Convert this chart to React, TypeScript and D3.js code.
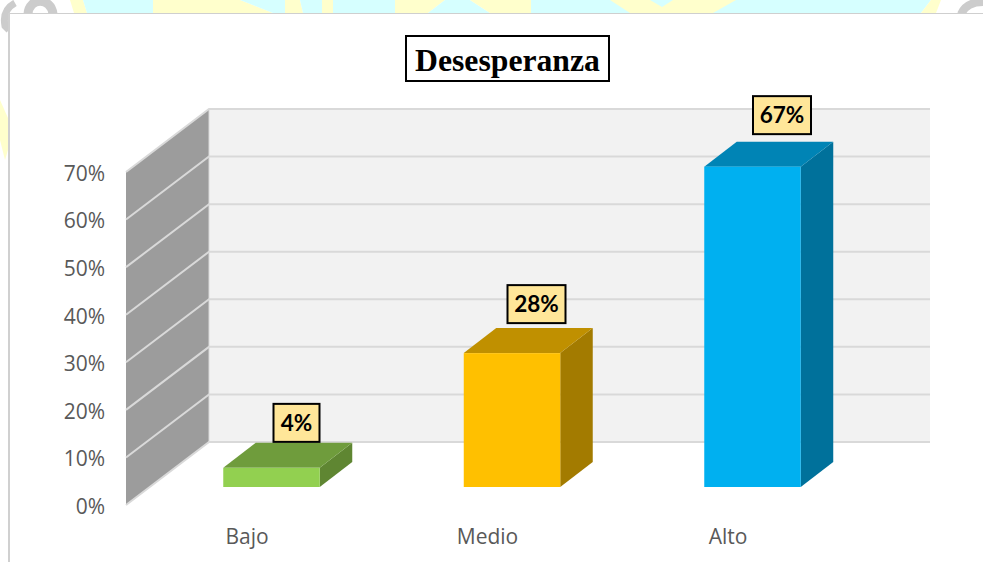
import React from "react";
import * as d3 from "d3";

const categories = ["Bajo", "Medio", "Alto"];
const values = [0.04, 0.28, 0.67];
const ticks = [0, 0.1, 0.2, 0.3, 0.4, 0.5, 0.6, 0.7];
const frontColors = ["#92d050", "#ffc000", "#00b0f0"];
const topColors = ["#6f9c3c", "#c09000", "#0084b5"];
const sideColors = ["#5f8632", "#a37b00", "#00719b"];
const labelDx = [25, 24.5, 29.5];
const labelGap = [1, 5, 7.5];

const W = 983;
const H = 562;
const wallX0 = 126;
const wallDX = 83;
const wallDY = 63;
const backRight = 930;
const barDX = 32.5;
const barDY = 25;

const yWall = d3.scaleLinear().domain([0, 0.7]).range([505, 172]);
const yBar = d3.scaleLinear().domain([0, 0.7]).range([487, 152.3]);
const x = d3.scaleBand<string>().domain(categories).range([151.25, 872.75]).paddingInner(0.5988).paddingOuter(0.2994);

const pts = (p: [number, number][]) => p.map((q) => q.join(",")).join(" ");

const CY = "#d6ffff";
const YL = "#ffffcc";
const topBg: [string, number, number, number, number][] = [
  [YL, 70, 83, 74, 87],
  [CY, 83, 153, 87, 153],
  [YL, 153, 240, 153, 273],
  [CY, 240, 285, 273, 285],
  [YL, 285, 300, 285, 303],
  [CY, 300, 322, 303, 322],
  [YL, 322, 333, 322, 333],
  [CY, 333, 395, 333, 395],
  [YL, 395, 445, 395, 428],
  [CY, 445, 470, 428, 490],
  [YL, 470, 531, 490, 531],
  [CY, 531, 931, 531, 921],
  [YL, 610, 736, 630, 713],
  [YL, 931, 941, 921, 936],
];

export default function App() {
  return (
    <svg width={W} height={H} viewBox={`0 0 ${W} ${H}`} style={{ position: "fixed", left: 0, top: 0, display: "block" }}>
      <rect width={W} height={H} fill="#ffffff" />
      {/* page background strip */}
      {topBg.map(([c, a, b, e, f], i) => (
        <polygon key={i} fill={c} points={pts([[a, 0], [b, 0], [f, 13], [e, 13]])} />
      ))}
      <polygon fill={CY} points={pts([[650, 0], [673, 0], [662, 7]])} />
      <polygon fill={YL} points={pts([[0, 100], [8, 118], [8, 150], [5, 160], [0, 140]])} />
      <path d="M15,3 C6,8 3,16 5,26 L9,30" fill="none" stroke="#cccccc" strokeWidth={7} />
      <path d="M28,14 C29,-3 51,-3 53,14" fill="none" stroke="#cccccc" strokeWidth={9} />
      <path d="M961,14 C965,5 973,2 983,2" fill="none" stroke="#cccccc" strokeWidth={8} />
      {/* card */}
      <rect x={9.5} y={13.5} width={W} height={H} fill="#ffffff" stroke="#cfcfcf" strokeWidth={1} />
      <line x1={9} x2={9} y1={13} y2={H} stroke="#d0d0d0" strokeWidth={2} />

      {/* back wall and side wall */}
      <rect x={wallX0 + wallDX} y={yWall(0.7) - wallDY} width={backRight - wallX0 - wallDX} height={yWall(0) - yWall(0.7)} fill="#f2f2f2" />
      <polygon
        fill="#9c9c9c"
        points={pts([
          [wallX0, yWall(0)],
          [wallX0 + wallDX, yWall(0) - wallDY],
          [wallX0 + wallDX, yWall(0.7) - wallDY],
          [wallX0, yWall(0.7)],
        ])}
      />
      {ticks.map((t) => (
        <polyline
          key={t}
          stroke="#d9d9d9"
          strokeWidth={2}
          fill="none"
          points={pts([
            [wallX0, yWall(t)],
            [wallX0 + wallDX, yWall(t) - wallDY],
            [backRight, yWall(t) - wallDY],
          ])}
        />
      ))}
      <line x1={wallX0 + wallDX} x2={wallX0 + wallDX} y1={yWall(0) - wallDY} y2={yWall(0.7) - wallDY} stroke="#d9d9d9" strokeWidth={1} />

      {/* tick labels */}
      {ticks.map((t) => (
        <text key={t} x={105} y={yWall(t) + 1.5} dy="0.35em" textAnchor="end" fontFamily="'Open Sans'" fontSize={21} fill="#595959">
          {d3.format(".0%")(t)}
        </text>
      ))}

      {/* bars */}
      {categories.map((c, i) => {
        const x0 = x(c)!;
        const bw = x.bandwidth();
        const top = yBar(values[i]);
        const bot = yBar(0);
        return (
          <g key={c}>
            <polygon fill={sideColors[i]} points={pts([[x0 + bw, top], [x0 + bw + barDX, top - barDY], [x0 + bw + barDX, bot - barDY], [x0 + bw, bot]])} />
            <polygon fill={topColors[i]} points={pts([[x0, top], [x0 + barDX, top - barDY], [x0 + bw + barDX, top - barDY], [x0 + bw, top]])} />
            <rect x={x0} y={top} width={bw} height={bot - top} fill={frontColors[i]} />
          </g>
        );
      })}

      {/* value labels */}
      {categories.map((c, i) => {
        const cx = x(c)! + x.bandwidth() / 2 + labelDx[i];
        const bottom = yBar(values[i]) - barDY - labelGap[i];
        const w = i === 0 ? 46 : 58;
        const h = 38;
        return (
          <g key={c}>
            <rect x={cx - w / 2} y={bottom - h} width={w} height={h} fill="#ffe699" stroke="#000000" strokeWidth={2} />
            <text x={cx} y={bottom - h / 2} dy="0.36em" textAnchor="middle" fontFamily="Lato" fontWeight={700} fontSize={22.5} fill="#000000">
              {d3.format(".0%")(values[i])}
            </text>
          </g>
        );
      })}

      {/* category labels */}
      {categories.map((c) => (
        <text key={c} x={x(c)! + x.bandwidth() / 2 - 24.5} y={544} textAnchor="middle" fontFamily="'Open Sans'" fontSize={21} fill="#595959">
          {c}
        </text>
      ))}

      {/* title */}
      <rect x={406} y={36} width={203} height={45} fill="#ffffff" stroke="#000000" strokeWidth={2} />
      <text x={507.5} y={71} textAnchor="middle" fontFamily="'Liberation Serif'" fontWeight={700} fontSize={31.7} fill="#000000">
        Desesperanza
      </text>
    </svg>
  );
}
